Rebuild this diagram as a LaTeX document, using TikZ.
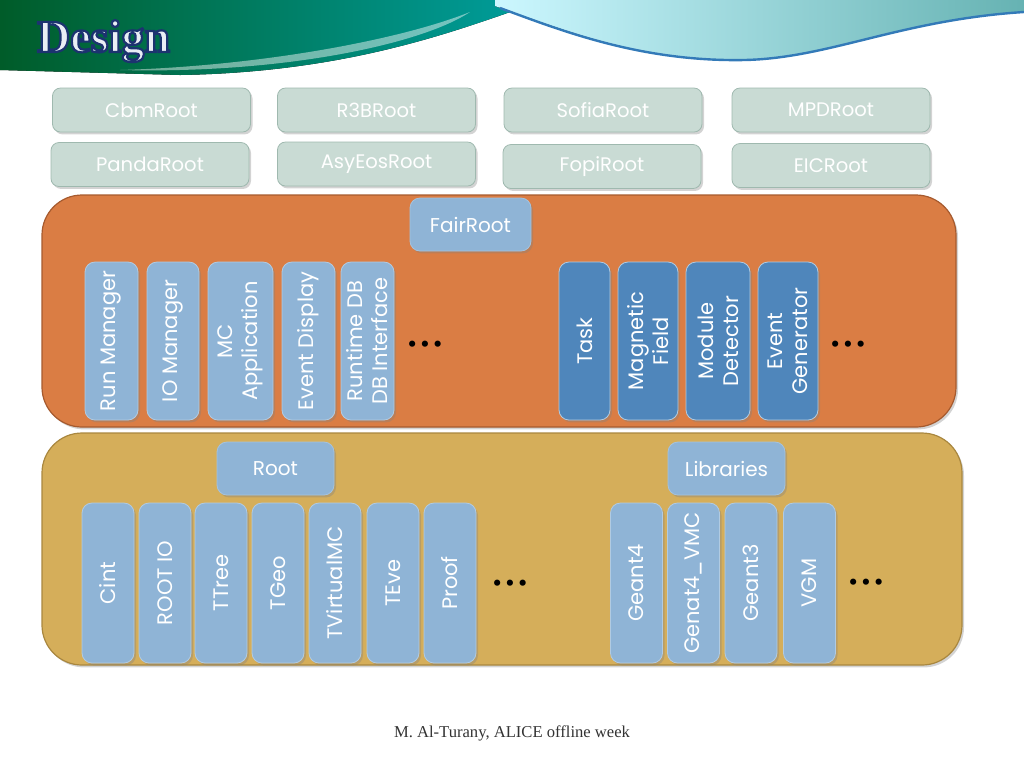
\documentclass[tikz,border=0pt]{standalone}
\usepackage{fontspec}
\setmainfont{Poppins}
\newfontfamily\serifface{Liberation Serif}
\usepackage{xcolor}
\usepackage{tikz}
\usetikzlibrary{shadows}

\definecolor{paleteal}{HTML}{C9DBD4}
\definecolor{palerim}{HTML}{9FB9AF}
\definecolor{fairorange}{HTML}{DA7D44}
\definecolor{fairrim}{HTML}{A65A2E}
\definecolor{rootgold}{HTML}{D5AE5A}
\definecolor{goldrim}{HTML}{A9873F}
\definecolor{lightblue}{HTML}{8FB4D6}
\definecolor{darkblue}{HTML}{4F86BB}
\definecolor{titlepale}{HTML}{E9EEF5}

% pale letters with a navy outline (fill + stroke render mode)
\newcommand{\outlinedtext}[1]{{\color{titlepale}%
  \special{pdf:code q 2 Tr 1.1 w 0.11 0.20 0.44 RG}#1\special{pdf:code Q}}}
\newcommand{\threedots}{\textbullet\hspace{1.2pt}\textbullet\hspace{1.2pt}\textbullet}

\begin{document}
\begin{tikzpicture}[x=0.5pt, y=-0.5pt,
    shade/.style={drop shadow={opacity=0.35, shadow xshift=1pt, shadow yshift=-1.2pt}},
    project/.style={shade, draw=palerim, fill=paleteal, rounded corners=4pt, text=white,
      minimum width=99pt, minimum height=22pt, inner sep=0pt, font=\fontsize{9.8}{11}\selectfont},
    panel/.style={shade, rounded corners=20pt, line width=0.6pt, inner sep=0pt},
    headbox/.style={shade, draw=lightblue!80!white, fill=lightblue, rounded corners=5pt, text=white,
      minimum height=26.5pt, inner sep=0pt, font=\fontsize{10}{12}\selectfont},
    module/.style={shade, draw=lightblue!70!white, fill=lightblue, rounded corners=5pt, text=white,
      inner sep=0pt, rotate=90, align=center, font=\fontsize{10.5}{12.5}\selectfont},
    fairmodule/.style={module, minimum width=79pt},
    basemodule/.style={module, minimum width=80pt, minimum height=26pt},
    dots/.style={font=\fontsize{12.5}{14}\selectfont}]

  % header
  \useasboundingbox (0,0) rectangle (1024,768);
  \fill[left color=black!60!teal!80!green, right color=teal!75!cyan]
    (0,0) -- (545,0) .. controls (470,25) and (360,72) .. (180,75) -- (0,70) -- cycle;
  \fill[white, opacity=0.45] (120,70) .. controls (260,66) and (400,40) .. (470,12)
    .. controls (420,45) and (280,74) .. (120,70) -- cycle;
  \fill[left color=blue!15!cyan!20!white, right color=teal!60!white]
    (495,0) -- (1024,0) -- (1024,12) .. controls (900,20) and (830,58) .. (745,60)
    .. controls (640,62) and (560,28) .. (495,6) -- cycle;
  \draw[line width=1.2pt, teal!70!blue!80!white] (500,8) .. controls (560,30) and (640,62) .. (745,60)
    .. controls (830,58) and (900,20) .. (1024,12);
  \node[anchor=base west, font=\serifface\bfseries\fontsize{23}{26}\selectfont] (title) at (30,52) {\outlinedtext{Design}};

  % experiments
  \node[project] (cbm) at (151.5,110) {CbmRoot};
  \node[project] (r3b) at (376.5,110) {R3BRoot};
  \node[project] (sofia) at (603,110) {SofiaRoot};
  \node[project] (mpd) at (831,110) {MPDRoot};
  \node[project] (panda) at (150,164.5) {PandaRoot};
  \node[project] (asyeos) at (376.5,164) {AsyEosRoot};
  \node[project] (fopi) at (602,166.5) {FopiRoot};
  \node[project] (eic) at (831,165.5) {EICRoot};

  % FairRoot layer
  \node[panel, draw=fairrim, fill=fairorange, minimum width=457pt, minimum height=116pt] (fairpanel) at (499,311) {};
  \node[headbox, minimum width=60.5pt] (fairroot) at (470.5,224.5) {FairRoot};
  \node[fairmodule, minimum height=26.5pt] (runman) at (111.5,341) {Run Manager};
  \node[fairmodule, minimum height=26pt] (ioman) at (173,341) {IO Manager};
  \node[fairmodule, minimum height=32.5pt] (mcapp) at (240.5,341) {MC\\Application};
  \node[fairmodule, minimum height=26.5pt] (evdisp) at (308.5,341) {Event Display};
  \node[fairmodule, minimum height=26.5pt] (rtdb) at (367.5,341) {Runtime DB\\DB Interface};
  \node[dots] (fairdotsA) at (425,347) {\threedots};
  \node[fairmodule, fill=darkblue, minimum height=25.5pt] (task) at (584.5,341) {Task};
  \node[fairmodule, fill=darkblue, minimum height=30pt] (magfield) at (648,341) {Magnetic\\Field};
  \node[fairmodule, fill=darkblue, minimum height=32pt] (detector) at (718,341) {Module\\Detector};
  \node[fairmodule, fill=darkblue, minimum height=30pt] (evgen) at (788,341) {Event\\Generator};
  \node[dots] (fairdotsB) at (848,347) {\threedots};

  % Root and external libraries
  \node[panel, draw=goldrim, fill=rootgold, minimum width=460pt, minimum height=116pt] (basepanel) at (502,549) {};
  \node[headbox, minimum width=58.5pt] (root) at (275.5,468.5) {Root};
  \node[headbox, minimum width=58.5pt] (libs) at (726.5,468.5) {Libraries};
  \node[basemodule] (cint) at (108,583) {Cint};
  \node[basemodule] (rootio) at (165,583) {ROOT IO};
  \node[basemodule] (ttree) at (221,583) {TTree};
  \node[basemodule] (tgeo) at (278,583) {TGeo};
  \node[basemodule] (tvmc) at (335,583) {TVirtualMC};
  \node[basemodule] (teve) at (393,583) {TEve};
  \node[basemodule] (proof) at (450,583) {Proof};
  \node[dots] (basedotsA) at (510,586) {\threedots};
  \node[basemodule] (geant4) at (636.5,583) {Geant4};
  \node[basemodule] (g4vmc) at (693.5,583) {Genat4\_VMC};
  \node[basemodule] (geant3) at (751,583) {Geant3};
  \node[basemodule] (vgm) at (809.5,583) {VGM};
  \node[dots] (basedotsB) at (866,585) {\threedots};

  % footer
  \node[font=\serifface\fontsize{8.3}{10}\selectfont, text=black!80] (footer) at (512,733) {M. Al-Turany, ALICE offline week};
\end{tikzpicture}
\end{document}
